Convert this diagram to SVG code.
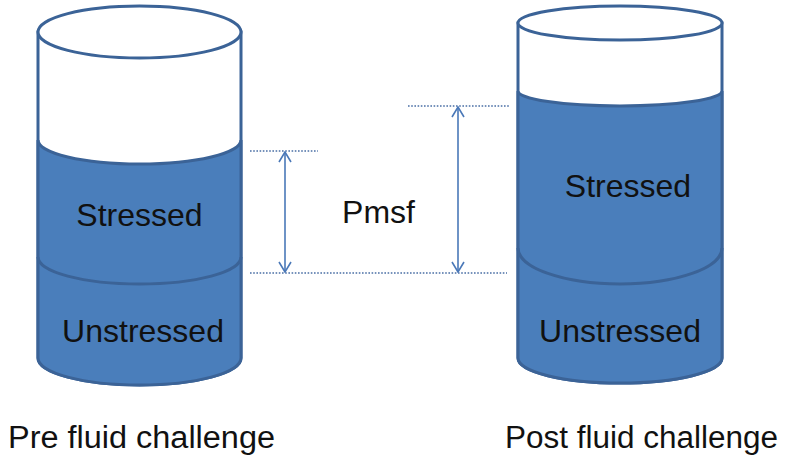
<svg xmlns="http://www.w3.org/2000/svg" width="787" height="464" viewBox="0 0 787 464">
<defs>
<style>
.body{fill:#ffffff;stroke:#3b6397;stroke-width:3}
.liq{fill:#4a7ebb;stroke:#3b6397;stroke-width:3}
.line{fill:none;stroke:#3b6397;stroke-width:3}
.top{fill:#ffffff;stroke:#3b6397;stroke-width:3}
.dot{stroke:#4a6fa5;stroke-width:1.6;stroke-dasharray:1.6 1.6;fill:none}
.arr{stroke:#4a78b8;stroke-width:1.6;fill:none}
text{font-family:"Liberation Sans",Arial,sans-serif;fill:#111111}
.lbl{font-size:32px;text-anchor:middle}
</style>
<marker id="ah" viewBox="0 0 12 14" refX="11" refY="7" markerWidth="12" markerHeight="14" markerUnits="userSpaceOnUse" orient="auto-start-reverse">
<path d="M1,1 L11,7 L1,13" fill="none" stroke="#4a78b8" stroke-width="1.6"/>
</marker>
</defs>
<g id="pre-cylinder">
<path class="body" d="M38,32 L38,358 A101.5,27 0 0 0 241,358 L241,32 Z"/>
<path class="liq" d="M38,140 A101.5,24 0 0 0 241,140 L241,358 A101.5,27 0 0 1 38,358 Z"/>
<path class="line" d="M38,257 A101.5,27 0 0 0 241,257"/>
<ellipse class="top" cx="139.5" cy="32" rx="101.5" ry="26"/>
<text class="lbl" x="139.5" y="226">Stressed</text>
<text class="lbl" x="143" y="342">Unstressed</text>
</g>
<g id="post-cylinder">
<path class="body" d="M518,23 L518,358 A102,25 0 0 0 722,358 L722,23 Z"/>
<path class="liq" d="M518,91 A102,15 0 0 0 722,91 L722,358 A102,25 0 0 1 518,358 Z"/>
<path class="line" d="M518,248 A102,36 0 0 0 722,248"/>
<ellipse class="top" cx="620" cy="23" rx="102" ry="17"/>
<text class="lbl" x="628" y="197">Stressed</text>
<text class="lbl" x="620" y="342">Unstressed</text>
</g>
<g id="connectors">
<line class="dot" x1="250" y1="151" x2="318" y2="151"/>
<line class="dot" x1="250" y1="273" x2="507" y2="273"/>
<line class="dot" x1="408" y1="106" x2="509" y2="106"/>
<line class="arr" x1="285" y1="152" x2="285" y2="272" marker-start="url(#ah)" marker-end="url(#ah)"/>
<line class="arr" x1="458" y1="107" x2="458" y2="272" marker-start="url(#ah)" marker-end="url(#ah)"/>
</g>
<g id="pmsf">
<text class="lbl" x="378.5" y="223">Pmsf</text>
</g>
<g id="captions">
<text x="8" y="448" font-size="31" textLength="267" lengthAdjust="spacingAndGlyphs">Pre fluid challenge</text>
<text x="505" y="448" font-size="31" textLength="273" lengthAdjust="spacingAndGlyphs">Post fluid challenge</text>
</g>
</svg>
